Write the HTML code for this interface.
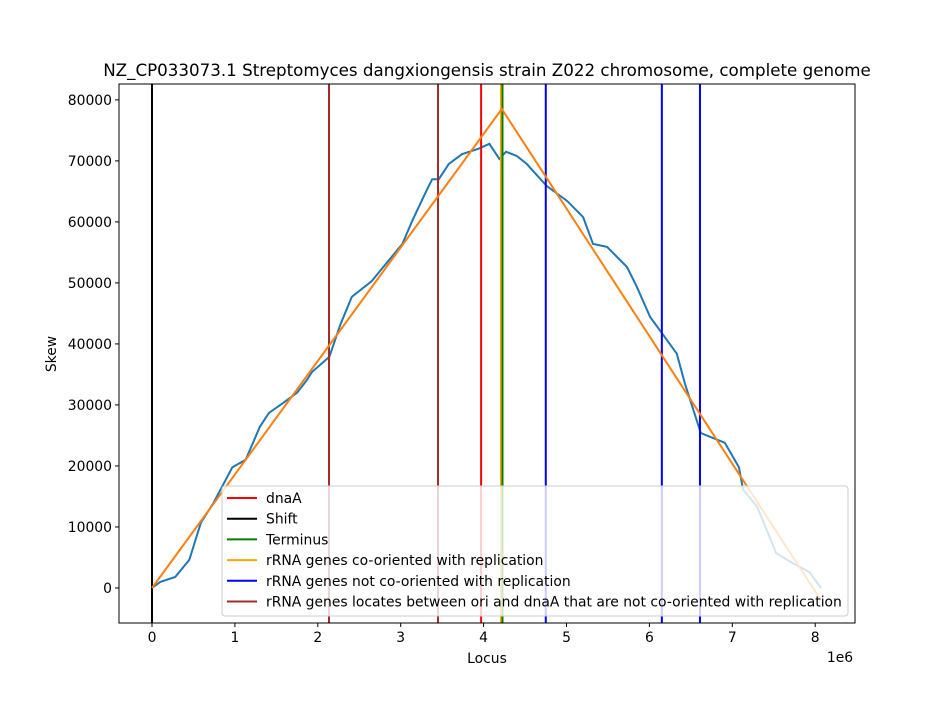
<!DOCTYPE html>
<html><head><meta charset="utf-8"><style>
body{margin:0;background:#fff;font-family:"Liberation Sans","DejaVu Sans",sans-serif}
</style></head><body>
<svg id="chart" width="950" height="700" xmlns="http://www.w3.org/2000/svg" font-family="'DejaVu Sans','Liberation Sans',sans-serif">
<rect width="950" height="700" fill="#fff"/>
<text x="487" y="76" font-size="16.7" text-anchor="middle">NZ_CP033073.1 Streptomyces dangxiongensis strain Z022 chromosome, complete genome</text>
<g id="plot" clip-path="url(#clip)"></g>
<clipPath id="clip"><rect x="119" y="84" width="736" height="539"/></clipPath>
<g id="axes"></g>
<g id="legend"></g>
</svg>
<script>
const locusMb=[0,0.10,0.28,0.45,0.59,0.74,0.97,1.13,1.30,1.41,1.58,1.75,1.87,1.93,2.14,2.27,2.41,2.65,2.82,3.02,3.14,3.31,3.38,3.46,3.58,3.74,3.94,4.07,4.19,4.27,4.40,4.52,4.76,5.01,5.20,5.32,5.49,5.73,5.85,6.01,6.16,6.33,6.43,6.62,6.91,7.08,7.13,7.30,7.53,7.70,7.93,8.07];
const skew=[0,1000,1800,4600,10700,13900,19800,21000,26400,28700,30300,32000,34100,35400,37900,43100,47700,50300,53100,56400,60200,65100,67000,67000,69500,71100,72000,72800,70300,71500,70800,69500,65900,63400,60800,56400,55900,52600,49300,44400,41600,38400,33400,25400,23800,19800,16100,13300,5700,4300,2600,0];
const fitLocusMb=[0,4.22,8.07];
const fitSkew=[0,78500,-2000];
const markerNames=["Shift","rRNA-ori-dnaA-1","rRNA-ori-dnaA-2","dnaA","rRNA-co","Terminus","rRNA-not-co-1","rRNA-not-co-2","rRNA-not-co-3"];
const markerPos=[0,2.135,3.45,3.97,4.21,4.228,4.75,6.15,6.61];
const markerColors=["#000","#a52a2a","#a52a2a","#ff0000","#ffa500","#008000","#0000ff","#0000ff","#0000ff"];
const xTicks=[0,1,2,3,4,5,6,7,8];
const yTicks=[0,10000,20000,30000,40000,50000,60000,70000,80000];
const legendLabels=["dnaA","Shift","Terminus","rRNA genes co-oriented with replication","rRNA genes not co-oriented with replication","rRNA genes locates between ori and dnaA that are not co-oriented with replication"];
const legendColors=["#ff0000","#000","#008000","#ffa500","#0000ff","#a52a2a"];

const NS="http://www.w3.org/2000/svg";
const X0=119,X1=855,Y0=84,Y1=623,xmin=-0.398,xmax=8.48,ymin=-5740,ymax=82600;
const sx=v=>X0+(v-xmin)/(xmax-xmin)*(X1-X0);
const sy=v=>Y1-(v-ymin)/(ymax-ymin)*(Y1-Y0);
function mk(tag,attrs,parent){const e=document.createElementNS(NS,tag);for(const k in attrs)e.setAttribute(k,attrs[k]);parent.appendChild(e);return e;}
const plot=document.getElementById('plot'),axes=document.getElementById('axes'),leg=document.getElementById('legend');

let d=locusMb.map((v,i)=>(i?'L':'M')+sx(v).toFixed(1)+','+sy(skew[i]).toFixed(1)).join('');
let p=mk('path',{d:d,fill:'none',stroke:'#1f77b4','stroke-width':2},plot);


markerPos.forEach((v,i)=>{
 const l=mk('line',{x1:sx(v),x2:sx(v),y1:Y0,y2:Y1,stroke:markerColors[i],'stroke-width':2},plot);
 
 
});
d=fitLocusMb.map((v,i)=>(i?'L':'M')+sx(v).toFixed(1)+','+sy(fitSkew[i]).toFixed(1)).join('');
p=mk('path',{d:d,fill:'none',stroke:'#ff7f0e','stroke-width':2},plot);



const fr=mk('rect',{x:X0,y:Y0,width:X1-X0,height:Y1-Y0,fill:'none',stroke:'#000','stroke-width':1},axes);


xTicks.forEach(v=>{
 const x=sx(v);mk('line',{x1:x,x2:x,y1:Y1,y2:Y1+4,stroke:'#000'},axes);
 const t=mk('text',{x:x,y:Y1+19,'font-size':13.9,'text-anchor':'middle'},axes);t.textContent=v;
 
 
});
yTicks.forEach(v=>{
 const y=sy(v);mk('line',{x1:X0-4,x2:X0,y1:y,y2:y,stroke:'#000'},axes);
 const t=mk('text',{x:X0-7,y:y+5,'font-size':13.9,'text-anchor':'end'},axes);t.textContent=v;
 
 
});
let t=mk('text',{x:840,y:662,'font-size':13.9,'text-anchor':'middle'},axes);t.textContent='1e6';


t=mk('text',{x:487,y:663,'font-size':13.9,'text-anchor':'middle'},axes);t.textContent='Locus';


t=mk('text',{x:56,y:354,'font-size':13.9,'text-anchor':'middle',transform:'rotate(-90 56 354)'},axes);t.textContent='Skew';



const lb=mk('rect',{x:222,y:486,width:626,height:130,rx:3,fill:'rgba(255,255,255,0.8)',stroke:'#ccc'},leg);


legendLabels.forEach((s,i)=>{
 const y=498+i*20.7;
 const g=mk('g',{},leg);
 
 
 mk('line',{x1:227,x2:257,y1:y,y2:y,stroke:legendColors[i],'stroke-width':2},g);
 const tt=mk('text',{x:266,y:y+5,'font-size':13.9},g);tt.textContent=s;
});
</script>
</body></html>
